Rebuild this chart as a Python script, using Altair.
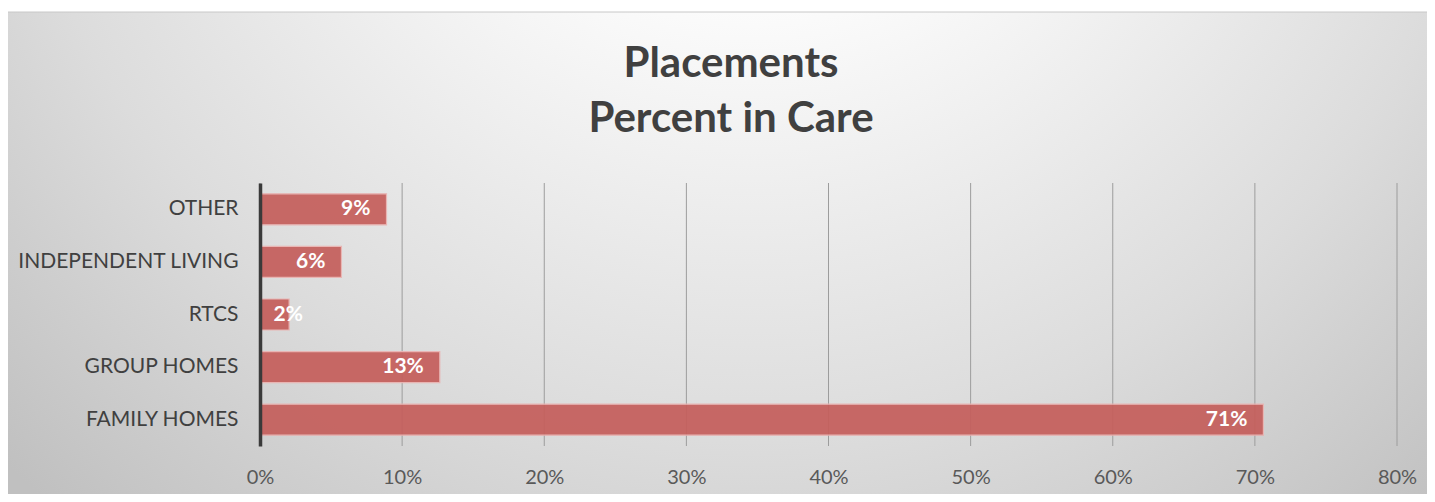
import altair as alt
import pandas as pd

categories = ["OTHER\u00a0", "INDEPENDENT LIVING", "RTCS", "GROUP HOMES", "FAMILY HOMES"]
shares = [0.089, 0.0573, 0.0205, 0.1265, 0.706]
grid_ticks = [0.0, 0.1, 0.2, 0.3, 0.4, 0.5, 0.6, 0.7, 0.8]
title_lines = ["Placements", "Percent in Care"]

df = pd.DataFrame({"cat": categories, "val": shares})
grid_df = pd.DataFrame({"t": grid_ticks})
bg_df = pd.DataFrame({"a": [0]})

W, H = 1137, 263
FONT = "Lato"

xscale = alt.Scale(domain=[0, 0.8], nice=False, zero=True)
yscale = alt.Scale(domain=categories, paddingInner=0.41, paddingOuter=0.205)

gradient = {
    "gradient": "radial",
    "x1": 0.52, "y1": 0.1, "r1": 0.0,
    "x2": 0.52, "y2": 0.1, "r2": 0.75,
    "stops": [
        {"offset": 0.0, "color": "#ffffff"},
        {"offset": 0.3, "color": "#fbfbfb"},
        {"offset": 0.7, "color": "#dcdcdc"},
        {"offset": 1.0, "color": "#c0c0c0"},
    ],
}

background = alt.Chart(bg_df).mark_rect(
    fill=gradient, stroke="#c8c8c8", strokeWidth=1
).encode(
    x=alt.value(-254), x2=alt.value(1180),
    y=alt.value(-171), y2=alt.value(330),
)

title = alt.Chart(bg_df).mark_text(
    text=title_lines, font=FONT, fontSize=42, fontWeight="bold", color="#404040",
    align="center", baseline="alphabetic", lineHeight=55,
).encode(x=alt.value(471), y=alt.value(-106))

grid = alt.Chart(grid_df).mark_rule(color="#9c9c9c", strokeWidth=1).encode(
    x=alt.X("t:Q", scale=xscale),
    y=alt.value(0), y2=alt.value(H),
)

bars = alt.Chart(df).mark_bar(
    color="#c55f5c", opacity=0.93, stroke="#eab3b1", strokeWidth=1.2
).encode(
    x=alt.X("val:Q", scale=xscale,
            axis=alt.Axis(format=".0%", values=grid_ticks, grid=False, ticks=False,
                          domain=False, labelFont=FONT, labelFontSize=20,
                          labelColor="#595959", labelPadding=21, labelFlush=False,
                          title=None, zindex=1)),
    y=alt.Y("cat:N", scale=yscale, sort=categories,
            axis=alt.Axis(title=None, ticks=False, grid=False, domainColor="#3a3a3a",
                          domainWidth=3.5, labelFont=FONT, labelFontSize=21,
                          labelColor="#404040", labelPadding=22, labelLimit=400,
                          zindex=1)),
)

labels = alt.Chart(df).transform_calculate(
    lx="max(datum.val, 0.0415)"
).mark_text(
    align="right", baseline="middle", dx=-16, color="white",
    font=FONT, fontSize=21, fontWeight="bold"
).encode(
    x=alt.X("lx:Q", scale=xscale),
    y=alt.Y("cat:N", scale=yscale, sort=categories),
    text=alt.Text("val:Q", format=".0%"),
)

chart = alt.layer(background, title, grid, bars, labels).properties(
    width=W, height=H,
    autosize=alt.AutoSizeParams(type="none"),
    padding={"left": 252, "top": 175, "right": 30, "bottom": 48},
    background="white",
).configure_view(stroke=None)

chart.save("out.html", embed_options={"renderer": "svg", "actions": False})
